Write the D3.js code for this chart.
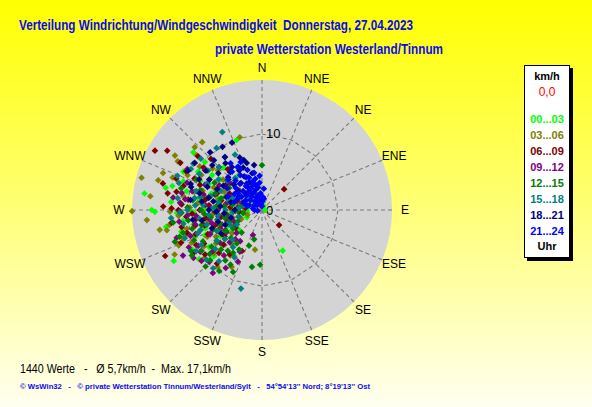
<!DOCTYPE html>
<html><head><meta charset="utf-8">
<script src="https://cdn.jsdelivr.net/npm/d3@7/dist/d3.min.js"></script>
<style>html,body{margin:0;padding:0;}svg{display:block;}</style>
</head><body>
<script>
// ---------- DATA ----------
const directions = ["N","NNE","NE","ENE","E","ESE","SE","SSE","S","SSW","SW","WSW","W","WNW","NW","NNW"];
const ringValues = [10];
const ringLabels = ["0","10"];
const seriesLabels = ["00...03","03...06","06...09","09...12","12...15","15...18","18...21","21...24"];
const seriesColors = ["#00ff00","#808000","#800000","#800080","#008000","#008080","#000080","#0000ff"];
const maxSpeed = 17.1;
const titleText = "Verteilung Windrichtung/Windgeschwindigkeit  Donnerstag, 27.04.2023";
const subtitleText = "private Wetterstation Westerland/Tinnum";
const footerText = "1440 Werte   -   \u00d8 5,7km/h  -  Max. 17,1km/h";
const creditText = "\u00a9 WsWin32   -   \u00a9 private Wetterstation Tinnum/Westerland/Sylt   -   54\u00b054'13'' Nord; 8\u00b019'13'' Ost";

// [direction in degrees, speed in km/h]
const h0003 = [[278,15.6],[270,14.5],[269,14.1],[240,13.4],[153,6.0],[340,9.8],[310,11.8],[300,12.5],[290,11],[283,13],[275,12],[262,10.5],[255,11],[248,9.5],[235,8.5],[228,7],[260,8],[270,9.5],[280,8.5],[295,9],[305,8],[318,7.5],[325,5.5],[300,5.5],[285,6],[270,6.5],[258,6],[245,5],[265,4],[280,3.5],[295,3],[315,3.5],[335,2.5],[250,3],[230,4],[270,2],[300,1.5],[350,1],[20,0.6],[90,0.4],[260,12.8],[288,7],[276,5],[262,7.2],[252,7.8],[240,10.5],[310,9.8],[292,4.5],[268,11.2],
  [258,9.2],[272,7.5],[284,10.2],[296,7.8],[306,6.8],[246,8.2],[238,6.5],[264,5.8],[279,8],[290,5.2],[301,9.8],[314,5.2],[252,10.6],[268,9],[285,12.2],[232,10.5],[275,10.8],[296,11.5],
  [236,4.8],[224,5.8],[254,4.6],[282,2.5],[244,2.2],[212,7],[262,2],[226,8.8]];
const h0306 = [[269.5,17.1],[285,16.4],[290.5,13.9],[286,14.2],[302,13.5],[313,12.1],[318.6,11.9],[343,10],[259,13.7],[261,12.3],[258,12.8],[248,11.9],[243,12.9],[247,11.9],[269,12.1],[190,5.3],[215,7.3],[280,10.5],[295,10.8],[305,10],[272,9.5],[262,9],[252,8.5],[238,9],[230,10],[282,7.5],[295,7],[308,6.5],[265,6.5],[250,6],[275,5],[290,4.5],[320,4.5],[255,4],[240,7],[228,8.5],[300,12.8],[277,14.8],[265,15.2],[310,8.5],[285,9.2],[268,7.8],[245,10.2],
  [256,10.2],[266,11],[276,8.5],[288,8.2],[300,9.2],[312,7.8],[258,7.2],[244,8],[234,7.5],[282,6],[270,4],[296,5.5],[262,5.2],[250,11],[290,12.5],[310,11.2],
  [222,6],[232,5],[246,3],[264,2.5],[208,8.5],[218,9.5],[284,3],[252,2]];
const h0609 = [[299,16.1],[302,14.7],[46.7,4],[131.5,3],[244.6,14.1],[300,12.4],[272,13],[271,11.9],[258,10.8],[253,10.3],[290,12],[282,11.5],[310,11],[315,9.5],[295,9.8],[278,9.8],[265,10],[250,9.3],[240,8.8],[232,9.5],[270,8.2],[285,8],[300,8],[262,7.5],[255,7.8],[275,7],[290,6.3],[305,5.8],[260,5.5],[245,6.5],[275,4.2],[290,3.5],[265,3],[235,6],[225,8],[280,12.6],[262,12],[248,11.5],[320,7],[310,4],[283,5.5],[268,6.2],
  [257,9],[267,9.2],[287,10.8],[297,11.2],[306,9.5],[246,7.8],[238,10.5],[280,7.6],[292,8.8],[274,10.6],[262,8.8],[252,6.5],[241,5.5],[297,4.8],[270,11],[285,13.5],
  [228,6.8],[216,7.2],[236,4.2],[254,3.2],[277,2.2],[242,9.8],[220,9.2],[206,6]];
const h0912 = [[298.7,11.2],[269,10.8],[240.7,9.6],[225.5,9.7],[282,10.8],[275,10.8],[230,8.5],[220,7.8],[235,11],[250,10],[258,9],[245,7.5],[255,6.8],[265,8.7],[275,7.5],[285,9.5],[290,10.5],[305,9.2],[270,5.8],[280,4.8],[260,4.5],[248,4],[238,5.5],[225,6],[215,5],[205,7.5],[300,6.5],[310,5.5],[290,2.8],[320,2.5],[200,3.5],[252,11.8],[262,11],[240,12],[212,9],[278,11.8],[268,3.5],[315,8],
  [243,10.8],[256,8],[266,9.8],[272,6.8],[284,8],[294,8.2],[246,6],[232,7],[260,7],[278,10.2],[288,6.5],[252,4.8],[236,9.8],[228,4.5],[218,10.5],
  [250,5.6],[262,5.8],[276,3.2],[222,5.2],[240,4],[208,6.2],[230,10.4],[296,4.2]];
const h1215 = [[0,5.9],[190,7.6],[182,7.2],[217,5.5],[252,11.4],[237,11],[225,10.5],[215,9.8],[205,9],[230,9],[242,8.8],[255,9.5],[248,7],[235,7.2],[220,7],[210,6],[228,5.5],[240,5.5],[252,5.8],[262,6.8],[270,8],[278,9.2],[288,8.5],[262,9.8],[275,6],[290,6.5],[300,7.2],[312,6],[280,4],[265,4.8],[245,3.5],[222,4],[200,5],[195,4],[260,2.5],[300,3.5],[330,4],[350,3],[240,10.8],[268,10.6],[250,12.2],[285,11],[210,8.3],
  [246,9.8],[256,8.2],[266,7.6],[272,9.8],[283,7.2],[295,9.5],[258,5],[234,8.2],[226,9.5],[216,8.2],[244,6.2],[276,5],[304,5.2],[286,5.6],[232,6.2],[262,11.8],
  [238,4.5],[250,4.5],[268,3.2],[214,6.8],[226,7.5],[236,9.6],[254,10.8],[282,2.6]];
const h1518 = [[333,11.5],[195,10.7],[282,8.3],[304,10.9],[323.7,10.1],[334,8.1],[310,10.5],[300,9.5],[290,10],[280,9],[270,9.8],[260,10.5],[250,10.8],[240,9.2],[230,8],[220,8.8],[285,7],[275,7.8],[265,7],[255,7.5],[245,6.5],[295,6],[305,7],[315,8],[320,5.5],[300,4],[285,4.5],[270,4.8],[258,4.2],[240,3.8],[225,5.5],[210,7.2],[325,8.5],[330,6.5],[278,11.2],[265,12],[292,12],[250,9],[262,8.3],[275,3],[310,2.5],[340,4],
  [252,8.5],[268,10.8],[274,8.8],[286,9],[296,8],[306,8.8],[288,11.5],[258,6],[248,5],[264,5.8],[280,5.8],[292,4.2],[310,6],[236,7.2],[228,9.8],[272,6.4],[300,10.8],
  [244,4.6],[232,6.2],[218,6.2],[254,3.2],[266,3.8],[286,2.4],[238,10.2],[220,10]];
const h1821 = [[337,7.5],[316,9.1],[336,9.7],[325,6.9],[336,6.1],[325,8.5],[330,6],[320,6.5],[310,7.5],[305,9],[300,8],[295,6.5],[312,5],[322,4.5],[335,4],[345,5],[290,5],[280,6.5],[285,8.5],[270,7],[275,5.5],[300,3.5],[315,3],[330,2.5],[345,2],[265,5],[255,6],[290,10],[305,10.8],[278,9.5],[260,8],[250,7],[340,7],[350,6],[318,10.2],[298,11],
  [283,7.2],[293,7.8],[302,6],[312,8.8],[322,7.8],[328,9.8],[288,9.8],[268,6],[262,9.2],[278,8],[296,9.2],[314,6.2],[332,5],[342,6.5],[308,4],[328,3.5],
  [256,4.2],[270,3.6],[284,4.2],[248,5.2],[240,6.2],[296,2.5]];
const h2124 = [[334,4.8],[342,3.9],[4,1.7],[0,1.1],[300,4.2],[310,4.5],[320,4.5],[330,4],[340,3.5],[350,3],[355,2.2],[345,1.8],[335,2.5],[325,3],[315,3.5],[305,3.8],[295,3.5],[290,2.5],[300,2.5],[310,2],[320,1.5],[330,1.2],[340,1],[350,0.8],[0,0.5],[315,0.9],[300,1.2],[290,1.8],[285,2],[280,1.2],[318,5.2],[328,5.4],[338,4.6],[348,4.2],[355,3.6],[5,2.8],[10,1.5],[323,2.2],[333,3.2],[343,2.8],[313,2.8],[303,3.2],[352,1.5],[326,3.8],[336,1.8],[346,3.4],[270,1.0],[260,0.6],
  [332,6.2],[340,5.6],[348,5],[356,4.5],[322,6.4],[312,6],[302,5.4],[292,4.8],[286,3.8],[336,6.9],[326,7.4],[331,6.5]];
const seriesData = [h0003,h0306,h0609,h0912,h1215,h1518,h1821,h2124];

// ---------- LAYOUT ----------
const W = 592, H = 407;
const cx = 262, cy = 210, R = 130;

const svg = d3.select("body").append("svg").attr("width", W).attr("height", H);
const defs = svg.append("defs");
const grad = defs.append("linearGradient").attr("id","bg").attr("x1",0).attr("y1",0).attr("x2",0).attr("y2",1);
grad.append("stop").attr("offset","0%").attr("stop-color","#ffff00");
grad.append("stop").attr("offset","55%").attr("stop-color","#ffff80");
grad.append("stop").attr("offset","100%").attr("stop-color","#fffff0");
svg.append("rect").attr("width",W).attr("height",H).attr("fill","url(#bg)");

const rScale = d3.scaleLinear().domain([0, maxSpeed]).range([0, R]);
const aScale = d3.scaleLinear().domain([0, 360]).range([0, 2*Math.PI]);
const px = (dir, v) => cx + rScale(v) * Math.sin(aScale(dir));
const py = (dir, v) => cy - rScale(v) * Math.cos(aScale(dir));

const g = svg.append("g");
g.append("circle").attr("cx",cx).attr("cy",cy).attr("r",R).attr("fill","#d4d4d4");

const dirAngles = directions.map((d,i) => i*22.5);
// spokes
g.selectAll("line.spoke").data(dirAngles).join("line")
  .attr("x1", cx).attr("y1", cy)
  .attr("x2", d => px(d, maxSpeed)).attr("y2", d => py(d, maxSpeed))
  .attr("stroke","#7a7a7a").attr("stroke-width",1.1).attr("stroke-dasharray","4,3");
// rings (polygons)
ringValues.forEach(v => {
  const pts = dirAngles.map(d => [px(d,v), py(d,v)]);
  g.append("path").attr("d", d3.line()(pts) + "Z")
    .attr("fill","none").attr("stroke","#7a7a7a").attr("stroke-width",1.1).attr("stroke-dasharray","4,3");
});
// ring labels
const ringLabelVals = [0].concat(ringValues);
g.selectAll("text.rl").data(ringLabelVals).join("text")
  .attr("x", cx + 4).attr("y", d => py(0,d))
  .attr("dominant-baseline","central")
  .attr("font-family","Liberation Sans, Arial, sans-serif").attr("font-size",13)
  .attr("fill","#000").text((d,i) => ringLabels[i]);

// direction labels
g.selectAll("text.dl").data(directions).join("text")
  .attr("x", (d,i) => cx + 143*Math.sin(aScale(dirAngles[i])))
  .attr("y", (d,i) => cy - 142*Math.cos(aScale(dirAngles[i])))
  .attr("text-anchor","middle").attr("dominant-baseline","central")
  .attr("font-family","Liberation Sans, Arial, sans-serif").attr("font-size",12)
  .attr("fill","#000").text(d => d);

// points
const diamond = d3.symbol(d3.symbolSquare, 22)();
seriesData.forEach((arr, si) => {
  g.append("g").selectAll("path").data(arr).join("path")
    .attr("d", diamond)
    .attr("transform", d => `translate(${px(d[0],d[1])},${py(d[0],d[1])}) rotate(45)`)
    .attr("fill", seriesColors[si]);
});

// titles
svg.append("text").attr("x",19).attr("y",30)
  .attr("font-family","Liberation Sans, Arial, sans-serif").attr("font-weight","bold").attr("font-size",14)
  .attr("fill","#0a0af0").attr("textLength",394).attr("lengthAdjust","spacingAndGlyphs")
  .style("white-space","pre").text(titleText);
svg.append("text").attr("x",215).attr("y",54)
  .attr("font-family","Liberation Sans, Arial, sans-serif").attr("font-weight","bold").attr("font-size",14)
  .attr("fill","#0a0af0").attr("textLength",228).attr("lengthAdjust","spacingAndGlyphs")
  .text(subtitleText);

// legend
const lg = svg.append("g");
lg.append("rect").attr("x",527).attr("y",68).attr("width",46).attr("height",193).attr("fill","#000");
lg.append("rect").attr("x",524.5).attr("y",65.5).attr("width",45).attr("height",192).attr("fill","#fff").attr("stroke","#000");
const lx = 547;
lg.append("text").attr("x",lx).attr("y",76).attr("text-anchor","middle").attr("dominant-baseline","central")
  .attr("font-family","Liberation Sans, Arial, sans-serif").attr("font-weight","bold").attr("font-size",11).text("km/h");
lg.append("text").attr("x",lx).attr("y",92).attr("text-anchor","middle").attr("dominant-baseline","central")
  .attr("font-family","Liberation Sans, Arial, sans-serif").attr("font-size",12).attr("fill","#ff0000").text("0,0");
const ly = d3.scaleLinear().domain([0, seriesLabels.length-1]).range([119, 231]);
lg.selectAll("text.ls").data(seriesLabels).join("text")
  .attr("x",lx).attr("y",(d,i)=>ly(i)).attr("text-anchor","middle").attr("dominant-baseline","central")
  .attr("font-family","Liberation Sans, Arial, sans-serif").attr("font-weight","bold").attr("font-size",11)
  .attr("fill",(d,i)=>seriesColors[i]).text(d=>d);
lg.append("text").attr("x",lx).attr("y",246).attr("text-anchor","middle").attr("dominant-baseline","central")
  .attr("font-family","Liberation Sans, Arial, sans-serif").attr("font-weight","bold").attr("font-size",11).text("Uhr");

// footer
svg.append("text").attr("x",20).attr("y",373)
  .attr("font-family","Liberation Sans, Arial, sans-serif").attr("font-size",12)
  .attr("fill","#000").style("white-space","pre").attr("textLength",211).attr("lengthAdjust","spacingAndGlyphs").text(footerText);
svg.append("text").attr("x",20).attr("y",389)
  .attr("font-family","Liberation Sans, Arial, sans-serif").attr("font-weight","bold").attr("font-size",8)
  .attr("fill","#0a0af0").style("white-space","pre").attr("textLength",350).attr("lengthAdjust","spacingAndGlyphs").text(creditText);
</script>
</body></html>
